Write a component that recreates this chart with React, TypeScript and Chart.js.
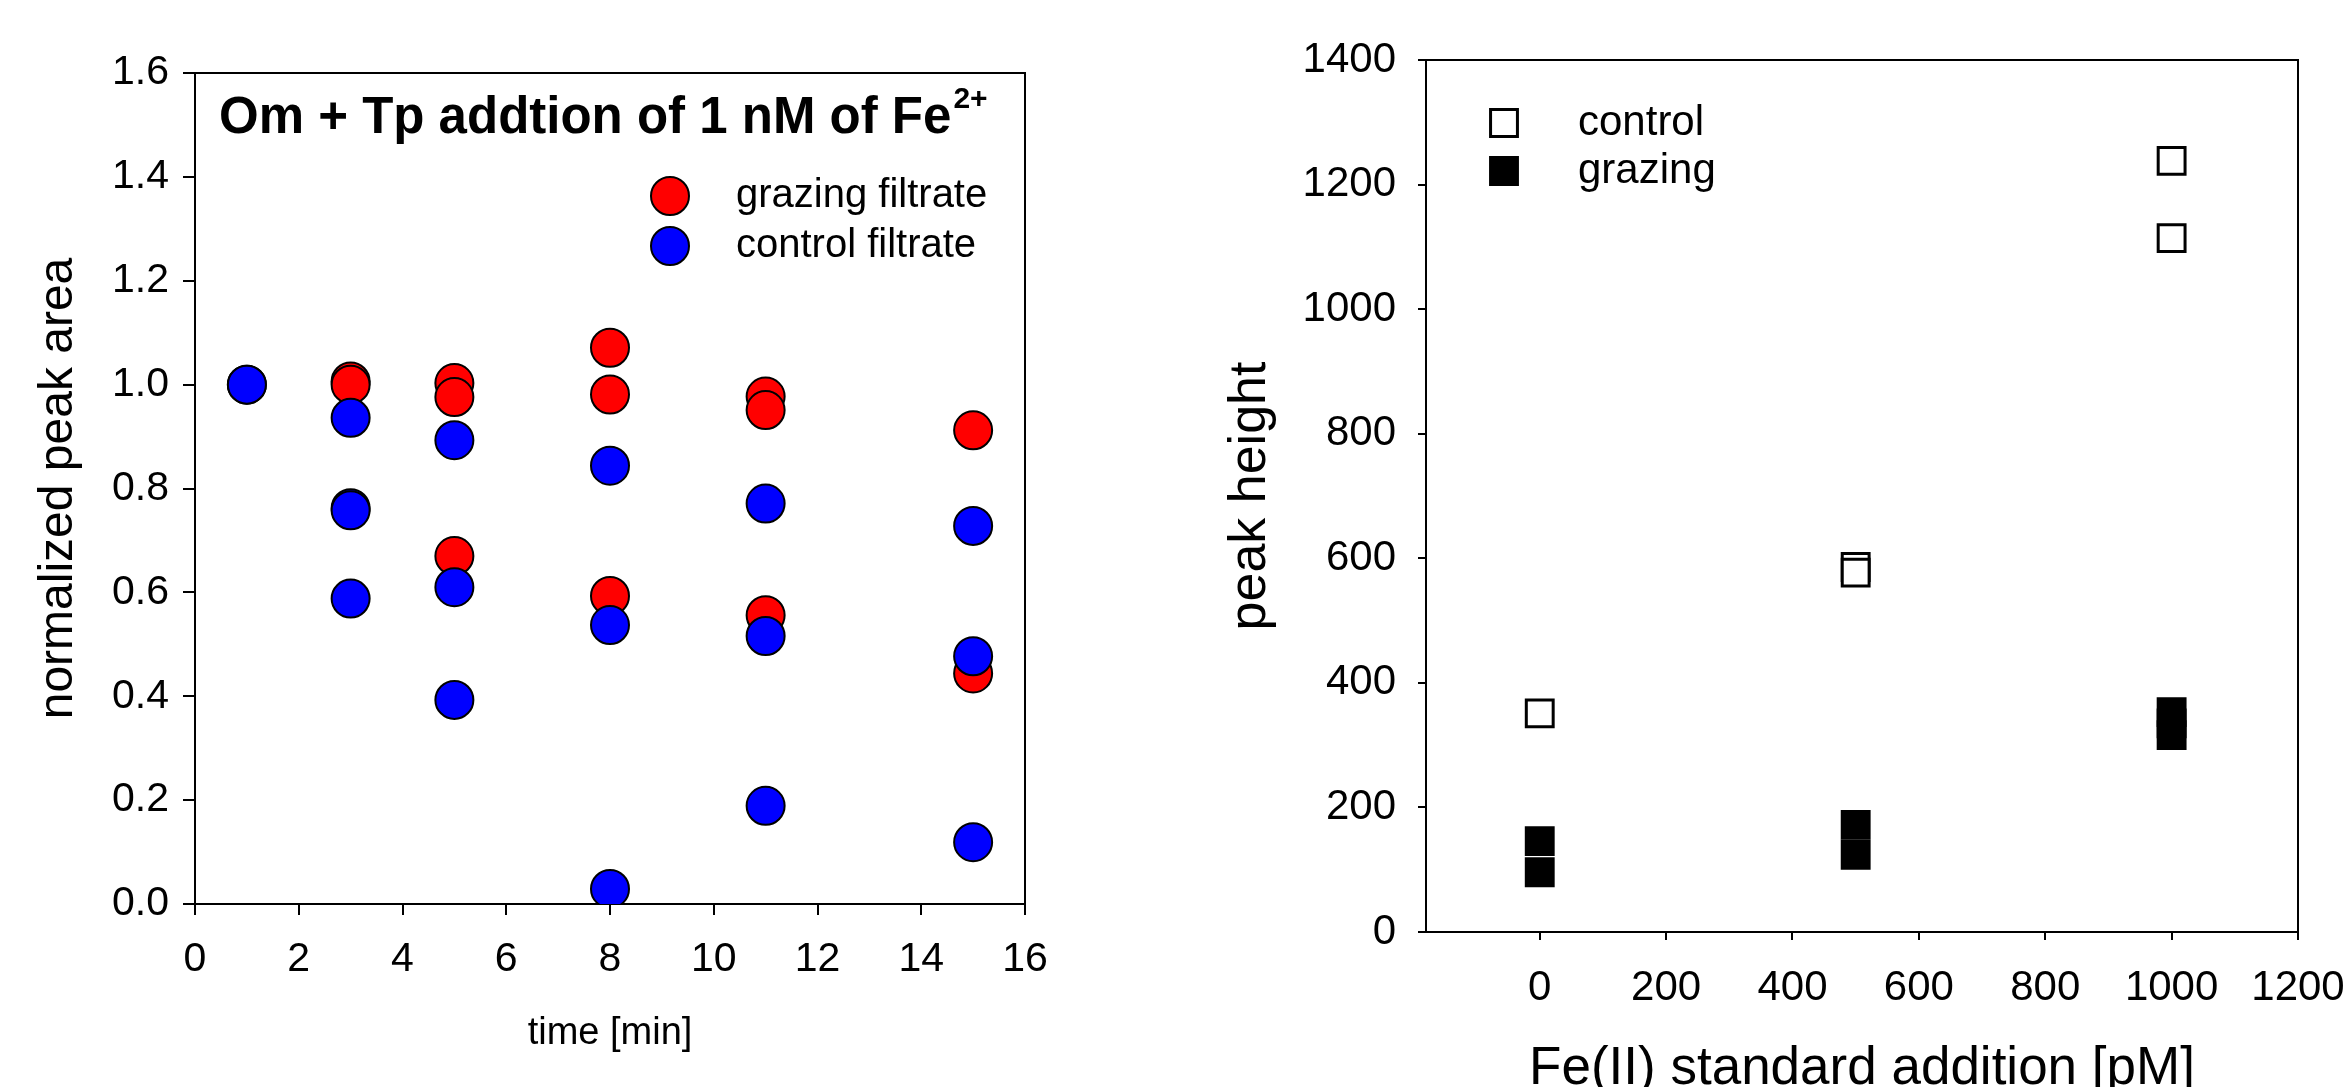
import React, { useEffect, useRef } from 'react';
import { Chart, registerables } from 'chart.js';

Chart.register(...registerables);

const FONT = '"Liberation Sans", Arial, Helvetica, sans-serif';

// ---------- Left chart data ----------
const timeTicks = [0, 2, 4, 6, 8, 10, 12, 14, 16];
const areaTicks = [0, 0.2, 0.4, 0.6, 0.8, 1.0, 1.2, 1.4, 1.6];
const grazingTime = [1, 3, 3, 5, 5, 5, 8, 8, 8, 11, 11, 11, 15, 15];
const grazingArea = [1.0, 1.006, 1.0, 1.003, 0.976, 0.67, 1.071, 0.981, 0.593, 0.977, 0.951, 0.556, 0.912, 0.444];
const controlTime = [1, 3, 3, 3, 3, 5, 5, 5, 8, 8, 8, 11, 11, 11, 15, 15, 15];
const controlArea = [1.0, 0.936, 0.762, 0.758, 0.588, 0.893, 0.61, 0.393, 0.844, 0.537, 0.029, 0.771, 0.516, 0.189, 0.728, 0.477, 0.119];
const leftTitleMain = 'Om + Tp addtion of 1 nM of Fe';
const leftTitleSup = '2+';
const leftXTitle = 'time [min]';
const leftYTitle = 'normalized peak area';
const leftLabels = ['grazing filtrate', 'control filtrate'];

// ---------- Right chart data ----------
const feTicks = [0, 200, 400, 600, 800, 1000, 1200];
const heightTicks = [0, 200, 400, 600, 800, 1000, 1200, 1400];
const controlFe = [0, 500, 500, 1000, 1000];
const controlHeight = [351, 586, 577, 1238, 1114];
const grazingFe = [0, 0, 500, 500, 1000, 1000, 1000];
const grazingHeight = [146, 96, 172, 124, 353, 335, 316];
const rightXTitle = 'Fe(II) standard addition [pM]';
const rightYTitle = 'peak height';
const rightLabels = ['control', 'grazing'];

const toPts = (xs: number[], ys: number[]) => xs.map((x, i) => ({ x, y: ys[i] }));

const framePlugin = {
  id: 'frame',
  beforeDatasetsDraw(chart: any) {
    const { ctx, chartArea } = chart;
    ctx.save();
    ctx.strokeStyle = '#000';
    ctx.lineWidth = 2;
    ctx.strokeRect(chartArea.left, chartArea.top, chartArea.right - chartArea.left, chartArea.bottom - chartArea.top);
    ctx.restore();
  },
};

function drawMarker(ctx: CanvasRenderingContext2D, ds: any, x: number, y: number) {
  const r = ds.pointRadius;
  ctx.save();
  ctx.fillStyle = ds.backgroundColor;
  ctx.strokeStyle = ds.borderColor;
  ctx.lineWidth = ds.borderWidth;
  ctx.beginPath();
  if (ds.pointStyle === 'rect') {
    const s = Math.SQRT1_2 * r;
    ctx.rect(x - s, y - s, 2 * s, 2 * s);
  } else {
    ctx.arc(x, y, r, 0, Math.PI * 2);
  }
  ctx.fill();
  ctx.stroke();
  ctx.restore();
}

const makeLegendPlugin = (markerX: number, textX: number, ys: number[], fontSize: number, order: number[]) => ({
  id: 'customLegend',
  afterDraw(chart: any) {
    const { ctx } = chart;
    order.forEach((di, i) => {
      const ds = chart.data.datasets[di];
      drawMarker(ctx, ds, markerX, ys[i]);
      ctx.save();
      ctx.fillStyle = '#000';
      ctx.font = `${fontSize}px ${FONT}`;
      ctx.textBaseline = 'middle';
      ctx.textAlign = 'left';
      ctx.fillText(ds.label, textX, ys[i]);
      ctx.restore();
    });
  },
});

const leftTitlePlugin = {
  id: 'leftTitle',
  afterDraw(chart: any) {
    const { ctx } = chart;
    ctx.save();
    ctx.fillStyle = '#000';
    ctx.textBaseline = 'alphabetic';
    ctx.textAlign = 'left';
    ctx.font = `bold 51px ${FONT}`;
    ctx.fillText(leftTitleMain, 219, 133);
    const w = ctx.measureText(leftTitleMain).width;
    ctx.font = `bold 30px ${FONT}`;
    ctx.fillText(leftTitleSup, 219 + w + 2, 108);
    ctx.restore();
  },
};

const plainNum = (v: any) => String(Math.round(Number(v)));

function axisCommon(tickLength: number, fontSize: number, padding: number, cb: (v: any) => string) {
  return {
    grid: { drawOnChartArea: false, drawTicks: true, tickLength, color: '#000', lineWidth: 2 },
    border: { display: true, color: '#000', width: 2 },
    ticks: { color: '#000', font: { family: FONT, size: fontSize }, padding, autoSkip: false, maxRotation: 0, minRotation: 0, callback: cb },
  };
}

function LeftChart() {
  const ref = useRef<HTMLCanvasElement>(null);
  useEffect(() => {
    const chart = new Chart(ref.current as HTMLCanvasElement, {
      type: 'scatter',
      data: {
        datasets: [
          {
            label: leftLabels[0],
            data: toPts(grazingTime, grazingArea),
            backgroundColor: '#ff0000',
            borderColor: '#000',
            borderWidth: 2,
            pointRadius: 19,
            pointStyle: 'circle',
            order: 1,
          } as any,
          {
            label: leftLabels[1],
            data: toPts(controlTime, controlArea),
            backgroundColor: '#0000ff',
            borderColor: '#000',
            borderWidth: 2,
            pointRadius: 19,
            pointStyle: 'circle',
            order: 0,
          } as any,
        ],
      },
      options: {
        responsive: false,
        animation: false,
        devicePixelRatio: 1,
        events: [],
        layout: { padding: { top: 73, right: 125, left: 0, bottom: 0 } },
        plugins: { legend: { display: false }, tooltip: { enabled: false }, title: { display: false } },
        scales: {
          x: {
            type: 'linear',
            min: 0,
            max: 16,
            ...axisCommon(11, 41, 20, plainNum),
            afterBuildTicks: (s: any) => { s.ticks = timeTicks.map((v) => ({ value: v })); },
            afterFit: (s: any) => { s.height = 183; s.paddingLeft = 0; s.paddingRight = 0; },
            title: { display: true, text: leftXTitle, color: '#000', font: { family: FONT, size: 38 }, padding: { top: 0, bottom: 31 } },
          } as any,
          y: {
            type: 'linear',
            min: 0,
            max: 1.6,
            ...axisCommon(12, 41, 14, (v: any) => Number(v).toFixed(1)),
            afterBuildTicks: (s: any) => { s.ticks = areaTicks.map((v) => ({ value: v })); },
            afterFit: (s: any) => { s.width = 195; s.paddingTop = 0; s.paddingBottom = 0; },
            title: { display: true, text: leftYTitle, color: '#000', font: { family: FONT, size: 48 }, padding: { top: 30, bottom: 0 } },
          } as any,
        },
      },
      plugins: [framePlugin, leftTitlePlugin, makeLegendPlugin(670, 736, [196, 246], 40, [0, 1])],
    });
    return () => chart.destroy();
  }, []);
  return <canvas ref={ref} width={1150} height={1087} style={{ position: 'absolute', left: 0, top: 0 }} />;
}

function RightChart() {
  const ref = useRef<HTMLCanvasElement>(null);
  useEffect(() => {
    const chart = new Chart(ref.current as HTMLCanvasElement, {
      type: 'scatter',
      data: {
        datasets: [
          {
            label: rightLabels[0],
            data: toPts(controlFe, controlHeight),
            backgroundColor: '#ffffff',
            borderColor: '#000',
            borderWidth: 3,
            pointRadius: 19,
            pointStyle: 'rect',
          } as any,
          {
            label: rightLabels[1],
            data: toPts(grazingFe, grazingHeight),
            backgroundColor: '#000000',
            borderColor: '#000',
            borderWidth: 3,
            pointRadius: 19,
            pointStyle: 'rect',
          } as any,
        ],
      },
      options: {
        responsive: false,
        animation: false,
        devicePixelRatio: 1,
        events: [],
        layout: { padding: { top: 60, right: 48, left: 0, bottom: 0 } },
        plugins: { legend: { display: false }, tooltip: { enabled: false }, title: { display: false } },
        scales: {
          x: {
            type: 'linear',
            min: -180,
            max: 1200,
            ...axisCommon(8, 42, 23, plainNum),
            afterBuildTicks: (s: any) => { s.ticks = feTicks.map((v) => ({ value: v })); },
            afterFit: (s: any) => { s.height = 155; s.paddingLeft = 0; s.paddingRight = 0; },
            title: { display: true, text: rightXTitle, color: '#000', font: { family: FONT, size: 53 }, padding: { top: 0, bottom: -14 } },
          } as any,
          y: {
            type: 'linear',
            min: 0,
            max: 1400,
            ...axisCommon(8, 42, 22, plainNum),
            afterBuildTicks: (s: any) => { s.ticks = heightTicks.map((v) => ({ value: v })); },
            afterFit: (s: any) => { s.width = 276; s.paddingTop = 0; s.paddingBottom = 0; },
            title: { display: true, text: rightYTitle, color: '#000', font: { family: FONT, size: 52 }, padding: { top: 69, bottom: 0 } },
          } as any,
        },
      },
      plugins: [framePlugin, makeLegendPlugin(1504 - 1150, 1578 - 1150, [123, 171], 42, [0, 1])],
    });
    return () => chart.destroy();
  }, []);
  return <canvas ref={ref} width={1196} height={1087} style={{ position: 'absolute', left: 1150, top: 0 }} />;
}

export default function App() {
  return (
    <div style={{ position: 'absolute', left: 0, top: 0, width: 2346, height: 1087, background: '#fff', overflow: 'hidden' }}>
      <LeftChart />
      <RightChart />
    </div>
  );
}
